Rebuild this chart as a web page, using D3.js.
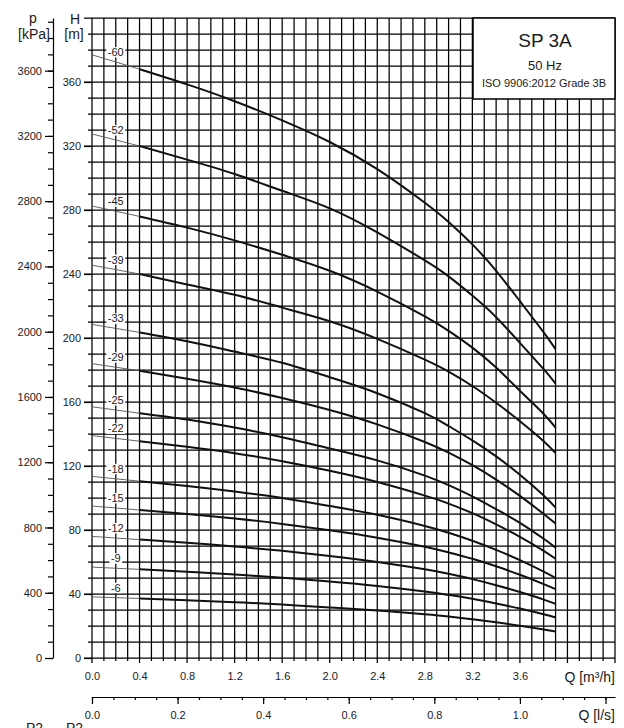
<!DOCTYPE html>
<html>
<head>
<meta charset="utf-8">
<script src="https://cdn.jsdelivr.net/npm/d3@7"></script>
<style>
  body { margin: 0; background: #fff; }
  svg text { font-family: "Liberation Sans", Arial, sans-serif; fill: #1a1a1a; }
</style>
</head>
<body>
<div id="chart"></div>
<script>
const flow = [0, 0.4, 0.8, 1.2, 1.6, 2.0, 2.4, 2.8, 3.0, 3.2, 3.4, 3.6, 3.8, 3.9];

// Head (m) for each stage count
const head60 = [377, 368, 358.5, 348, 336, 322.5, 305.5, 284.5, 272.5, 258.5, 242, 223, 203.5, 193];
const head52 = [327.5, 320, 311.5, 302.5, 292, 281, 266, 248.5, 238.5, 226.5, 213, 197, 180.5, 171.5];
const head45 = [282.5, 276, 269, 261, 252, 242, 229, 213.5, 204.5, 194, 181.5, 167, 152.5, 144];
const head39 = [245.5, 240, 233.5, 227, 219, 210.5, 199.5, 186.5, 179, 170, 159.5, 148, 135.5, 128];
const head33 = [208.5, 203.5, 198, 191.5, 184.5, 175.5, 165.5, 153, 145, 136, 126, 114.5, 101.5, 94];
const head29 = [184, 179.5, 174.5, 169, 162.5, 155, 146, 135, 128.3, 120.5, 111.5, 101.3, 90, 84];
const head25 = [157, 153, 149, 144, 138, 131, 123.5, 114, 108, 101, 93, 84.5, 74.5, 69];
const head22 = [139, 135.5, 132, 128, 123, 117, 110, 101.5, 96.5, 90.5, 83.5, 75.7, 67, 62];
const head18 = [113.5, 110.5, 107.5, 104, 100, 95, 89.5, 82.5, 78.3, 73.3, 67.6, 61.2, 54, 50];
const head15 = [95, 92.5, 90, 87.2, 83.8, 79.8, 75.2, 69.5, 66, 62, 57.3, 52, 46.2, 43];
const head12 = [76, 74, 72, 69.7, 67, 63.8, 60, 55.4, 52.6, 49.3, 45.5, 41.2, 36.5, 33.8];
const head9 = [56.8, 55.4, 53.9, 52.2, 50.2, 47.8, 45, 41.5, 39.4, 37, 34.1, 30.9, 27.3, 25.3];
const head6 = [38.2, 37.2, 36.1, 34.9, 33.4, 31.6, 29.7, 27.3, 25.9, 24.2, 22.3, 20.2, 17.8, 16.5];

const curveLabels = ["-60", "-52", "-45", "-39", "-33", "-29", "-25", "-22", "-18", "-15", "-12", "-9", "-6"];
const heads = [head60, head52, head45, head39, head33, head29, head25, head22, head18, head15, head12, head9, head6];

// Axis tick labels
const flowTicks = [0, 0.4, 0.8, 1.2, 1.6, 2.0, 2.4, 2.8, 3.2, 3.6];
const headTicks = [0, 40, 80, 120, 160, 200, 240, 280, 320, 360];
const pressureTicks = [0, 400, 800, 1200, 1600, 2000, 2400, 2800, 3200, 3600];
const litreTicks = [0, 0.2, 0.4, 0.6, 0.8, 1.0];

const width = 624;
const height = 728;
const pL = 92, pR = 615, pT = 18, pB = 658;
const qMax = 4.4, hMax = 400;
const thinEnd = 0.4; // thin line below this flow

const x = d3.scaleLinear().domain([0, qMax]).range([pL, pR]);
const y = d3.scaleLinear().domain([0, hMax]).range([pB, pT]);
const yP = d3.scaleLinear().domain([0, hMax * 9.807]).range([pB, pT]);
const xL = d3.scaleLinear().domain([0, qMax / 3.6]).range([pL, pR]);

const svg = d3.select("#chart").append("svg")
    .attr("width", width)
    .attr("height", height);

// grid
const grid = svg.append("g").attr("stroke", "#000").attr("stroke-width", 1.25);
const vLines = d3.range(0, 45).map(i => i / 10);
grid.selectAll(".v").data(vLines).enter().append("line")
    .attr("x1", d => x(d)).attr("x2", d => x(d))
    .attr("y1", pT)
    .attr("y2", (d, i) => pB + (i % 4 === 0 ? 5 : 3));
const hLines = d3.range(0, 41).map(i => i * 10);
grid.selectAll(".h").data(hLines).enter().append("line")
    .attr("y1", d => y(d)).attr("y2", d => y(d))
    .attr("x1", (d, i) => pL - (i % 4 === 0 ? 8 : 4))
    .attr("x2", pR);

function styleAxis(g, size) {
    g.select(".domain").attr("stroke", "#000").attr("stroke-width", 1.2);
    g.selectAll(".tick line").attr("stroke", "#000").attr("stroke-width", 1.2);
    g.selectAll("text").attr("font-size", size).attr("font-family", "Liberation Sans, Arial, sans-serif").attr("fill", "#1a1a1a");
}

// H axis labels
svg.append("g")
    .attr("transform", `translate(${pL},0)`)
    .call(d3.axisLeft(y).tickValues(headTicks).tickSize(8).tickPadding(3).tickFormat(d3.format("d")))
    .call(g => g.select(".domain").remove())
    .call(g => styleAxis(g, 11));

// p axis
svg.append("g")
    .attr("transform", "translate(53,0)")
    .call(d3.axisLeft(yP).tickValues(d3.range(0, 4000, 100)).tickSize(5).tickSizeOuter(0).tickFormat(""))
    .call(g => styleAxis(g, 11));
svg.append("g")
    .attr("transform", "translate(53,0)")
    .call(d3.axisLeft(yP).tickValues(pressureTicks).tickSize(8).tickPadding(3).tickFormat(d3.format("d")))
    .call(g => g.select(".domain").remove())
    .call(g => styleAxis(g, 11));

// Q m3/h labels
svg.append("g")
    .attr("transform", `translate(0,${pB})`)
    .call(d3.axisBottom(x).tickValues(flowTicks).tickSize(0).tickPadding(14).tickFormat(d3.format(".1f")))
    .call(g => g.select(".domain").remove())
    .call(g => styleAxis(g, 11));

// Q l/s axis
const yL = 697;
svg.append("g")
    .attr("transform", `translate(0,${yL})`)
    .call(d3.axisBottom(xL).tickValues(d3.range(0, 1.2001, 0.05)).tickSize(3).tickSizeOuter(0).tickFormat(""))
    .call(g => styleAxis(g, 11));
svg.append("g")
    .attr("transform", `translate(0,${yL})`)
    .call(d3.axisBottom(xL).tickValues([...litreTicks, 1.2]).tickSize(7).tickPadding(7)
        .tickFormat(d => d > 1.1 ? "" : d3.format(".1f")(d)))
    .call(g => g.select(".domain").remove())
    .call(g => styleAxis(g, 11));

// axis titles
const titles = svg.append("g").attr("font-size", 14).attr("text-anchor", "middle");
titles.append("text").attr("x", 33).attr("y", 22.5).text("p");
titles.append("text").attr("x", 34).attr("y", 38.5).text("[kPa]");
titles.append("text").attr("x", 75).attr("y", 24).text("H");
titles.append("text").attr("x", 74).attr("y", 38.5).text("[m]");
svg.append("text").attr("x", pR).attr("y", 682).attr("text-anchor", "end")
    .attr("font-size", 14).text("Q [m³/h]");
svg.append("text").attr("x", pR).attr("y", 720).attr("text-anchor", "end")
    .attr("font-size", 14).text("Q [l/s]");
svg.append("text").attr("x", 26).attr("y", 733).attr("font-size", 14).text("P2");
svg.append("text").attr("x", 66).attr("y", 733).attr("font-size", 14).text("P2");

// curves
const line = d3.line()
    .x(d => x(d[0]))
    .y(d => y(d[1]))
    .curve(d3.curveNatural);

const curveG = svg.append("g").attr("fill", "none");
heads.forEach((h, k) => {
    const pts = flow.map((q, i) => [q, h[i]]);
    curveG.append("path")
        .attr("d", line(pts.filter(p => p[0] <= thinEnd)))
        .attr("stroke", "#555")
        .attr("stroke-width", 0.9);
    curveG.append("path")
        .attr("d", line(pts.filter(p => p[0] >= thinEnd)))
        .attr("stroke", "#111")
        .attr("stroke-width", 2);
});

// curve labels with white backing
const labelG = svg.append("g");
heads.forEach((h, k) => {
    const hAt = h[0] + (h[1] - h[0]) * 0.5;
    const g = labelG.append("g");
    const t = g.append("text")
        .attr("x", x(0.2))
        .attr("y", y(hAt) - 6)
        .attr("text-anchor", "middle")
        .attr("font-size", 11)
        .text(curveLabels[k]);
    const bb = t.node().getBBox();
    g.insert("rect", "text")
        .attr("x", bb.x - 1.5).attr("y", bb.y + 1)
        .attr("width", bb.width + 3).attr("height", bb.height - 1.5)
        .attr("fill", "#fff");
});

// title box
const box = svg.append("g");
box.append("rect")
    .attr("x", 473).attr("y", pT)
    .attr("width", pR - 473).attr("height", 81)
    .attr("fill", "#fff").attr("stroke", "#000").attr("stroke-width", 1.5);
box.append("text").attr("x", 545).attr("y", 47).attr("text-anchor", "middle")
    .attr("font-size", 19).text("SP 3A");
box.append("text").attr("x", 545).attr("y", 70).attr("text-anchor", "middle")
    .attr("font-size", 13).text("50 Hz");
box.append("text").attr("x", 544).attr("y", 87).attr("text-anchor", "middle")
    .attr("font-size", 11).text("ISO 9906:2012 Grade 3B");
</script>
</body>
</html>
